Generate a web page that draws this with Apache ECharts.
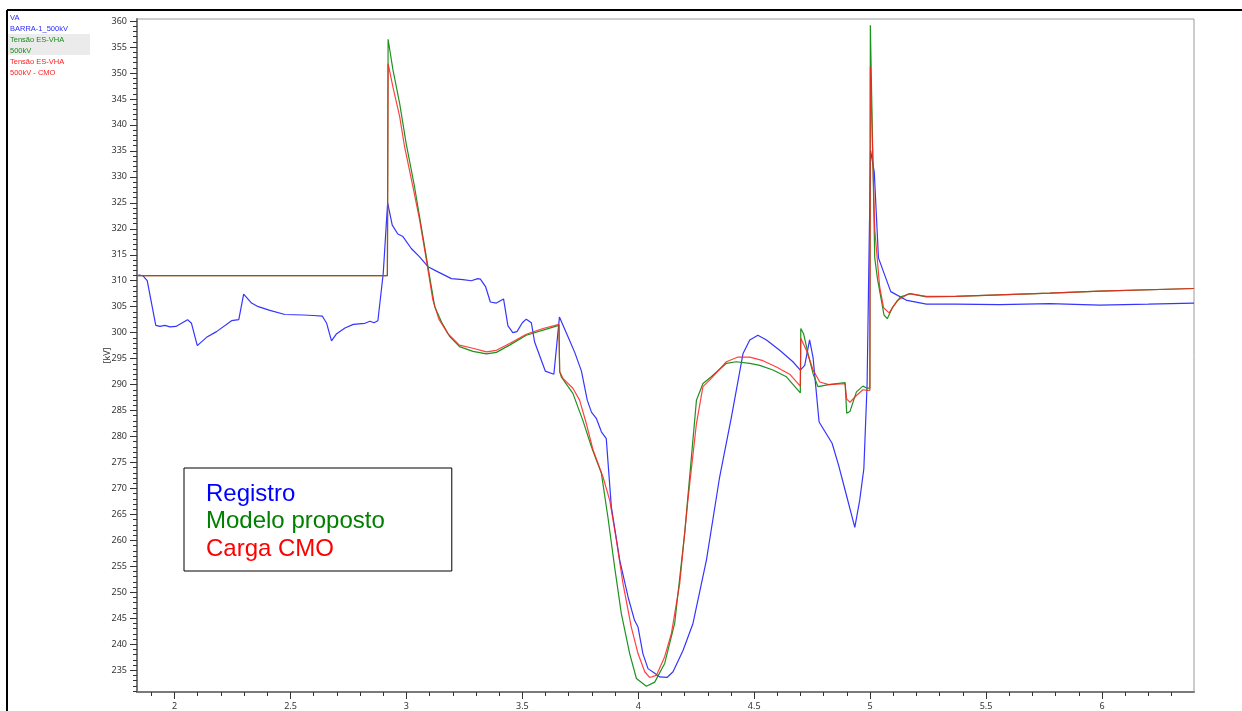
<!DOCTYPE html>
<html><head><meta charset="utf-8">
<script src="https://cdn.jsdelivr.net/npm/echarts@6/dist/echarts.min.js"></script>
<style>html,body{margin:0;padding:0;background:#fff}#c{width:1242px;height:711px}</style>
</head><body><div id="c"></div>
<script>
// Registro (blue)
const registroT = [1.838,1.850,1.865,1.882,1.901,1.919,1.937,1.958,1.980,2.006,2.030,2.056,2.073,2.098,2.138,2.181,2.246,2.277,2.298,2.332,2.361,2.411,2.476,2.555,2.598,2.637,2.656,2.677,2.699,2.735,2.771,2.821,2.843,2.860,2.877,2.900,2.919,2.939,2.963,2.985,3.021,3.057,3.093,3.136,3.194,3.244,3.280,3.308,3.319,3.342,3.362,3.388,3.419,3.438,3.459,3.477,3.500,3.517,3.539,3.553,3.599,3.636,3.660,3.697,3.726,3.755,3.780,3.798,3.819,3.841,3.862,3.884,3.920,3.956,3.984,3.999,4.020,4.042,4.071,4.092,4.124,4.150,4.193,4.236,4.294,4.351,4.402,4.452,4.481,4.516,4.553,4.610,4.667,4.699,4.718,4.739,4.754,4.780,4.836,4.864,4.892,4.934,4.955,4.973,4.987,5.002,5.018,5.036,5.089,5.159,5.243,5.369,5.559,5.775,5.991,6.200,6.397];
const registroV = [311.0,311.1,310.9,310.0,305.6,301.4,301.2,301.4,301.1,301.2,301.8,302.5,301.8,297.5,299.1,300.2,302.3,302.5,307.4,305.7,305.0,304.3,303.5,303.4,303.3,303.2,301.8,298.4,299.8,300.9,301.6,301.8,302.2,301.9,302.3,311.4,325.0,320.7,319.0,318.5,316.2,314.6,312.7,311.7,310.4,310.2,310.0,310.4,310.3,308.8,305.9,305.7,306.5,301.3,300.0,300.2,301.9,302.6,301.9,298.2,292.6,292.0,303.0,299.2,296.2,292.6,287.0,284.7,283.5,280.9,279.6,266.4,256.2,249.1,244.6,243.3,238.2,235.3,234.4,233.7,233.6,234.7,238.8,244.0,256.2,272.2,283.8,296.0,298.6,299.5,298.6,296.6,294.4,292.8,293.7,298.6,295.2,282.8,278.7,274.5,269.7,262.5,267.7,273.8,290.0,335.1,330.9,314.4,307.9,306.2,305.5,305.5,305.4,305.6,305.3,305.5,305.7];
// Modelo proposto (green)
const modeloT = [1.838,2.918,2.921,2.942,2.971,2.999,3.035,3.064,3.093,3.122,3.152,3.186,3.229,3.287,3.345,3.388,3.445,3.517,3.589,3.658,3.661,3.668,3.718,3.761,3.798,3.841,3.869,3.898,3.927,3.963,3.992,4.035,4.071,4.114,4.157,4.200,4.251,4.279,4.315,4.380,4.423,4.481,4.524,4.581,4.639,4.699,4.701,4.713,4.732,4.754,4.775,4.822,4.892,4.899,4.913,4.941,4.969,4.987,4.999,5.001,5.020,5.032,5.060,5.074,5.096,5.131,5.173,5.243,5.369,5.775,5.991,6.397];
const modeloV = [311.0,311.0,356.5,350.6,344.1,336.4,328.1,320.4,312.7,305.0,302.0,299.3,297.3,296.4,295.9,296.2,297.6,299.5,300.5,301.4,292.5,291.5,288.3,283.1,278.0,272.9,264.5,254.9,245.9,238.2,233.4,231.9,232.7,236.3,244.0,261.3,287.0,290.2,291.5,294.1,294.4,294.1,293.7,292.8,291.5,288.4,300.8,299.8,296.0,292.1,289.6,290.0,290.4,284.5,284.8,288.6,289.7,289.3,289.3,359.2,314.4,310.3,303.4,302.7,304.8,306.9,307.5,306.9,307.0,307.6,308.0,308.5];
// Carga CMO (red)
const cargaT = [1.838,2.918,2.921,2.942,2.971,2.992,3.028,3.057,3.086,3.114,3.140,3.179,3.229,3.287,3.345,3.388,3.445,3.517,3.589,3.658,3.661,3.675,3.718,3.747,3.776,3.805,3.848,3.877,3.906,3.934,3.970,3.999,4.028,4.049,4.078,4.114,4.143,4.179,4.214,4.251,4.279,4.315,4.380,4.430,4.481,4.538,4.596,4.653,4.699,4.701,4.725,4.754,4.783,4.822,4.892,4.899,4.913,4.941,4.969,4.987,4.999,5.001,5.020,5.041,5.058,5.082,5.117,5.166,5.243,5.369,5.775,5.991,6.397];
const cargaV = [311.0,311.0,351.8,347.3,341.6,335.8,328.1,321.7,314.0,306.3,302.6,299.8,297.6,297.0,296.3,296.6,297.9,299.7,300.8,301.6,292.5,291.2,289.3,287.0,282.5,277.4,272.2,267.7,260.0,251.7,243.3,238.2,234.7,233.6,234.0,237.6,242.1,251.7,267.7,282.5,289.6,291.2,294.4,295.3,295.3,294.6,293.4,292.0,289.7,298.9,296.6,292.8,290.5,290.0,290.2,287.2,286.6,287.9,289.0,288.9,288.9,351.2,319.9,308.9,304.8,303.8,306.2,307.5,307.0,307.0,307.6,308.0,308.5];

const xTickLabels = [2,2.5,3,3.5,4,4.5,5,5.5,6];
const yTickLabels = [235,240,245,250,255,260,265,270,275,280,285,290,295,300,305,310,315,320,325,330,335,340,345,350,355,360];
const seriesNames = ['Registro','Modelo proposto','Carga CMO'];
const sideLegend = ['VA','BARRA-1_500kV','Tensão ES-VHA','500kV','Tensão ES-VHA','500kV - CMO'];

const xMinor = []; for (let i = 19; i <= 63; i++) xMinor.push(i / 10);
const yMinor = []; for (let i = 231; i <= 360; i++) yMinor.push(i);
function zip(t, v) { return t.map((x, i) => [x, v[i]]); }

const font = 'Noto Sans';
const XMIN = 1.838, XMAX = 6.397, YMIN = 230.8, YMAX = 360.4;
const chart = echarts.init(document.getElementById('c'), null, {renderer: 'canvas'});

const sideColors = ['#2b2bff','#2b2bff','#1a8a1a','#1a8a1a','#ff2020','#ff2020'];
const sideY = [18, 28.5, 40, 50.5, 62, 72.5];
const graphics = [
  {type:'rect', shape:{x:8, y:34, width:82, height:21}, style:{fill:'#ebebeb'}, z:1},
  {type:'line', shape:{x1:7, y1:10, x2:1242, y2:10}, style:{stroke:'#000', lineWidth:2}, z:5},
  {type:'line', shape:{x1:7, y1:10, x2:7, y2:711}, style:{stroke:'#000', lineWidth:2}, z:5}
];
sideLegend.forEach((t, i) => graphics.push({
  type:'text', x:10, y:sideY[i], z:3,
  style:{text:t, fill:sideColors[i], font:'7.5px "Liberation Sans"', verticalAlign:'middle', align:'left'}
}));

chart.setOption({
  animation: false,
  backgroundColor: '#fff',
  grid: {left:137, right:48, top:19, bottom:19, show:true, borderColor:'#9a9a9a', borderWidth:1},
  xAxis: [
    {type:'value', min:XMIN, max:XMAX, position:'bottom',
     axisLine:{show:true, onZero:false, lineStyle:{color:'#7a7a7a', width:2}},
     axisTick:{show:true, customValues:xTickLabels, length:7, lineStyle:{color:'#333', width:1}},
     axisLabel:{customValues:xTickLabels, margin:10, fontSize:9, color:'#333', fontFamily:font},
     splitLine:{show:false}},
    {type:'value', min:XMIN, max:XMAX, position:'bottom',
     axisLine:{show:false, onZero:false},
     axisTick:{show:true, customValues:xMinor, length:4, lineStyle:{color:'#333', width:1}},
     axisLabel:{show:false}, splitLine:{show:false}}
  ],
  yAxis: [
    {type:'value', min:YMIN, max:YMAX, position:'left', name:'[kV]', nameLocation:'middle', nameGap:25,
     nameMoveOverlap:false,
     nameTextStyle:{fontSize:9, color:'#333', fontFamily:font},
     axisLine:{show:true, onZero:false, lineStyle:{color:'#7a7a7a', width:2}},
     axisTick:{show:true, customValues:yTickLabels, length:7, lineStyle:{color:'#333', width:1}},
     axisLabel:{customValues:yTickLabels, margin:10, fontSize:9, color:'#333', fontFamily:font},
     splitLine:{show:false}},
    {type:'value', min:YMIN, max:YMAX, position:'left',
     axisLine:{show:false, onZero:false},
     axisTick:{show:true, customValues:yMinor, length:4, lineStyle:{color:'#333', width:1}},
     axisLabel:{show:false}, splitLine:{show:false}}
  ],
  legend: {
    left:184, top:468, orient:'vertical', selectedMode:false,
    backgroundColor:'#fff', borderColor:'#000', borderWidth:1,
    padding:[14, 67, 10, 16], itemGap:3.5, itemWidth:0, itemHeight:0,
    textStyle:{fontSize:24, fontFamily:'Liberation Sans'},
    data:[
      {name:seriesNames[0], textStyle:{color:'#0000ff'}},
      {name:seriesNames[1], textStyle:{color:'#008000'}},
      {name:seriesNames[2], textStyle:{color:'#ff0000'}}
    ]
  },
  series: [
    {name:seriesNames[0], type:'line', data:zip(registroT, registroV), showSymbol:false, symbol:'none',
     lineStyle:{color:'#3535ff', width:1.2}, itemStyle:{color:'#3535ff'}, z:2},
    {name:seriesNames[1], type:'line', data:zip(modeloT, modeloV), showSymbol:false, symbol:'none',
     lineStyle:{color:'#1e921e', width:1.2}, itemStyle:{color:'#1e921e'}, z:3},
    {name:seriesNames[2], type:'line', data:zip(cargaT, cargaV), showSymbol:false, symbol:'none',
     lineStyle:{color:'#ff2020', width:1.2, opacity:0.85}, itemStyle:{color:'#ff2020'}, z:4}
  ],
  graphic: graphics
});
</script>
</body></html>
